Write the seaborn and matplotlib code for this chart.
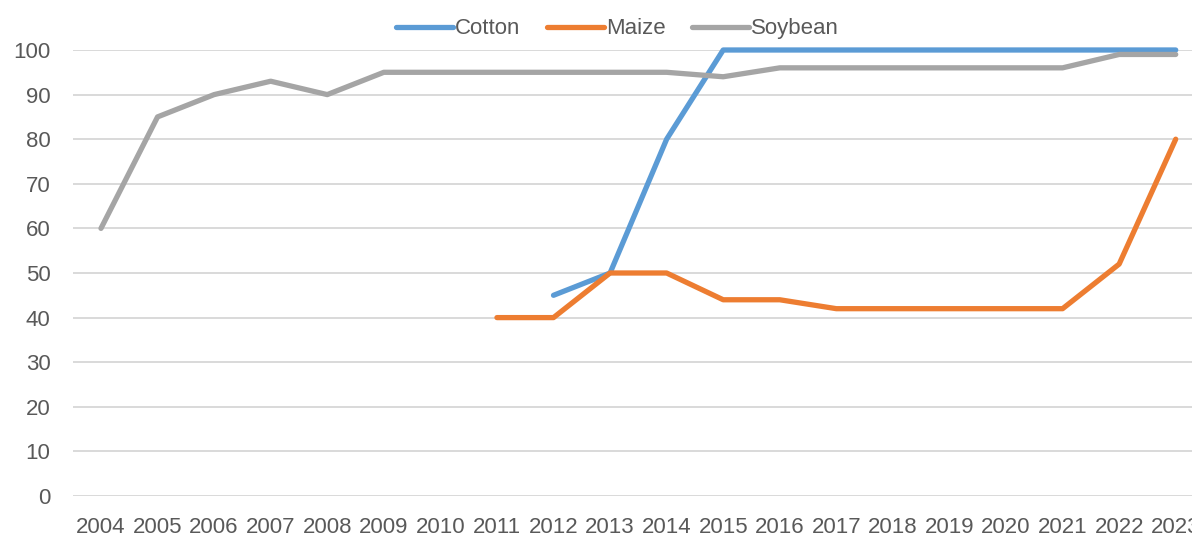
import matplotlib
matplotlib.use('Agg')
import matplotlib.pyplot as plt
import seaborn as sns
import pandas as pd
from matplotlib.lines import Line2D

years = list(range(2004, 2024))
cotton = [None] * 8 + [45, 50, 80, 100, 100, 100, 100, 100, 100, 100, 100, 100]
maize = [None] * 7 + [40, 40, 50, 50, 44, 44, 42, 42, 42, 42, 42, 52, 80]
soybean = [60, 85, 90, 93, 90, 95, 95, 95, 95, 95, 95, 94, 96, 96, 96, 96, 96, 96, 99, 99]

series = {'Cotton': cotton, 'Maize': maize, 'Soybean': soybean}
colors = {'Cotton': '#5B9BD5', 'Maize': '#ED7D31', 'Soybean': '#A5A5A5'}

rows = []
for name, vals in series.items():
    for y, v in zip(years, vals):
        if v is not None:
            rows.append({'year': y, 'value': v, 'crop': name})
df = pd.DataFrame(rows)

sns.set_style('white')
plt.rcParams['font.family'] = ['Liberation Sans', 'DejaVu Sans']

fig = plt.figure(figsize=(11.92, 5.36), dpi=100)
# plot area runs past the right edge, like the cropped original
ax = fig.add_axes([72.7 / 1192, 40 / 536, (1204 - 72.7) / 1192, 446 / 536])

sns.lineplot(data=df, x='year', y='value', hue='crop', palette=colors,
             hue_order=['Cotton', 'Maize', 'Soybean'],
             linewidth=3.8, ax=ax, legend=False)
for line in ax.lines:
    line.set_solid_capstyle('round')
    line.set_solid_joinstyle('round')
    line.set_clip_on(False)

ax.set_xlim(2003.5, 2023.5)
ax.set_ylim(0, 100)
ax.set_yticks(range(0, 101, 10))
ax.set_xticks(years)
ax.set_xticklabels([str(y) for y in years])
ax.grid(axis='y', color='#D9D9D9', linewidth=1.4)
ax.set_axisbelow(True)
for s in ax.spines.values():
    s.set_visible(False)
ax.tick_params(axis='both', length=0, labelsize=16, colors='#595959')
ax.tick_params(axis='y', pad=16)
ax.tick_params(axis='x', pad=15)
ax.set_xlabel('')
ax.set_ylabel('')

handles = [Line2D([0], [0], color=colors[n], linewidth=3.8, solid_capstyle='round') for n in series]
fig.legend(handles, list(series.keys()), loc='center', bbox_to_anchor=(0.518, 0.946),
           ncol=3, frameon=False, fontsize=16, handlelength=2.55, handletextpad=0.1,
           columnspacing=1.2, labelcolor='#595959')

fig.savefig('out.png', dpi=100)
